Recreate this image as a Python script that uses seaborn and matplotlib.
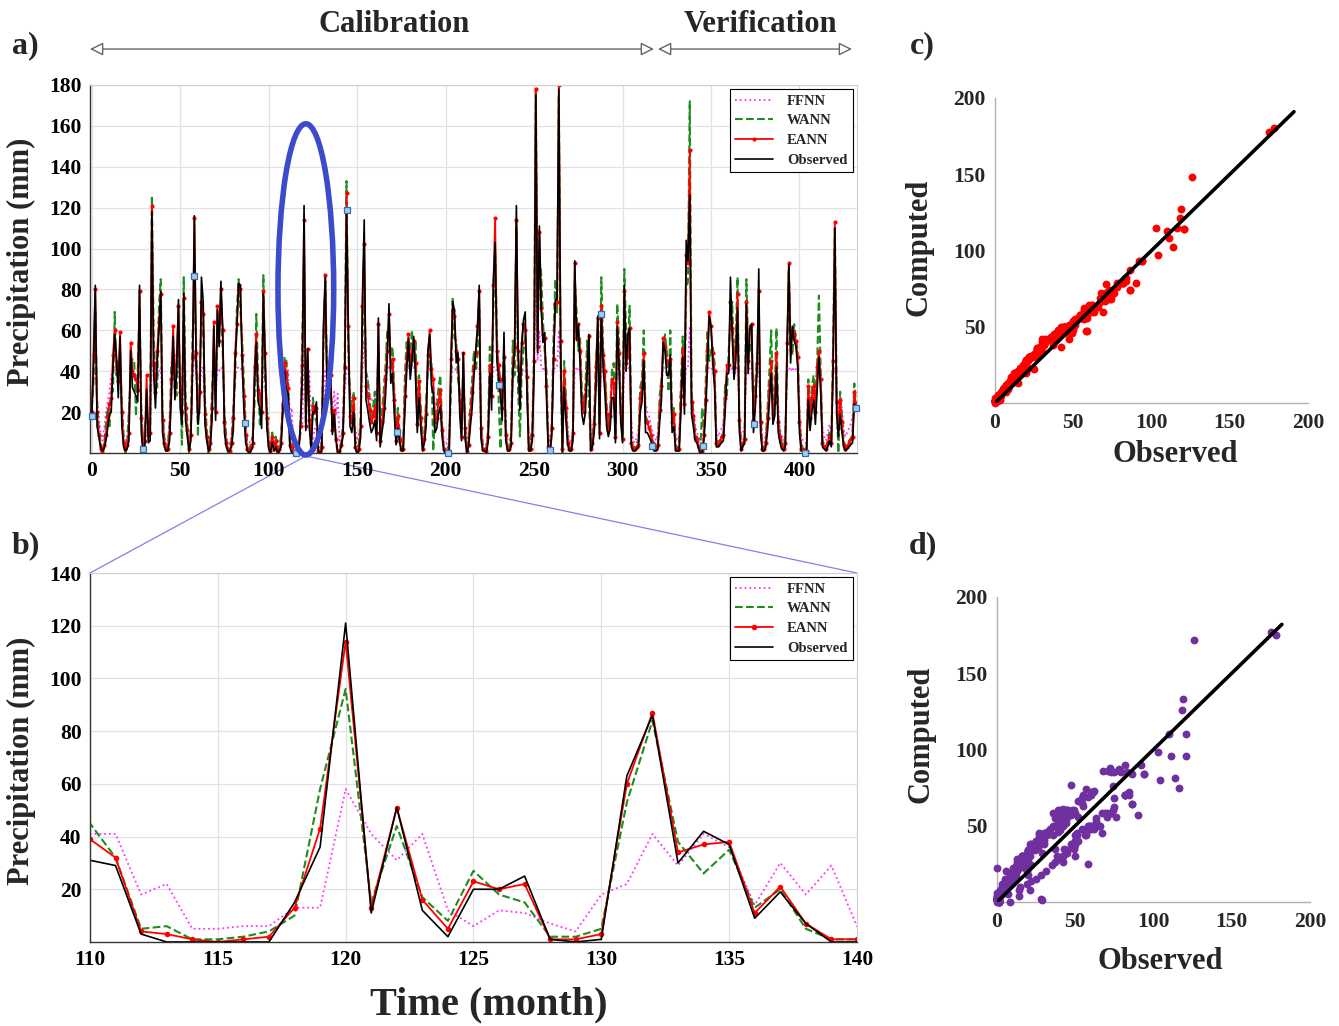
import numpy as np
import pandas as pd
import matplotlib
matplotlib.use("Agg")
import matplotlib.pyplot as plt
import seaborn as sns
from matplotlib.patches import Ellipse, ConnectionPatch

# ---------------- data (monthly precipitation, mm) ----------------
observed = [
    18, 43, 82, 13, 8, 3, 1, 2, 6, 12, 19, 20,
    42, 58, 47, 27, 57, 13, 3, 1, 2, 6, 50, 32,
    30, 28, 25, 82, 10, 0, 3, 31, 5, 6, 118, 39,
    22, 45, 60, 79, 10, 3, 1, 1, 6, 28, 57, 26,
    40, 75, 22, 14, 78, 16, 8, 1, 6, 42, 116, 43,
    14, 22, 86, 74, 14, 6, 1, 3, 16, 62, 16, 70,
    52, 84, 61, 10, 3, 1, 1, 3, 11, 44, 60, 83,
    82, 44, 21, 5, 1, 0, 1, 3, 35, 54, 25, 22,
    12, 78, 45, 12, 2, 0, 5, 1, 3, 0, 1, 3,
    20, 40, 31, 29, 3, 0, 0, 0, 0, 0, 15, 36,
    121, 11, 51, 12, 2, 20, 20, 25, 1, 0, 1, 63,
    86, 30, 42, 37, 9, 19, 7, 0, 0, 3, 8, 39,
    119, 60, 13, 10, 20, 2, 0, 1, 8, 76, 114, 26,
    21, 15, 10, 12, 16, 6, 66, 3, 10, 16, 27, 45,
    73, 34, 39, 19, 4, 12, 5, 1, 1, 21, 40, 56,
    36, 45, 57, 37, 10, 27, 12, 1, 5, 13, 50, 58,
    33, 29, 10, 12, 19, 23, 8, 1, 0, 0, 0, 42,
    74, 70, 44, 49, 19, 6, 49, 7, 0, 3, 13, 22,
    37, 50, 60, 82, 7, 1, 1, 0, 5, 39, 21, 84,
    103, 45, 37, 28, 16, 59, 6, 1, 1, 3, 39, 50,
    121, 50, 21, 52, 65, 69, 29, 1, 1, 6, 40, 175,
    49, 111, 72, 54, 59, 27, 2, 0, 8, 44, 75, 75,
    178, 51, 1, 32, 16, 4, 1, 1, 6, 94, 55, 63,
    43, 19, 14, 20, 39, 58, 1, 3, 10, 32, 67, 7,
    68, 42, 30, 13, 8, 12, 27, 27, 5, 62, 42, 15,
    5, 82, 40, 58, 61, 3, 1, 1, 2, 3, 20, 25,
    45, 10, 10, 8, 6, 3, 1, 1, 2, 15, 26, 54,
    50, 38, 38, 48, 10, 13, 1, 1, 1, 20, 47, 19,
    104, 94, 126, 19, 13, 6, 5, 2, 0, 0, 6, 20,
    42, 67, 62, 44, 32, 3, 3, 4, 5, 6, 20, 39,
    39, 86, 57, 36, 45, 71, 11, 1, 3, 5, 73, 39,
    61, 63, 10, 21, 39, 90, 10, 1, 1, 3, 11, 25,
    39, 14, 18, 42, 10, 5, 2, 1, 3, 50, 92, 44,
    62, 55, 52, 42, 10, 1, 1, 0, 0, 26, 11, 20,
    26, 14, 30, 47, 29, 3, 2, 1, 3, 6, 3, 40,
    110, 19, 8, 19, 10, 3, 1, 2, 3, 4, 5, 24,
    22,
]

eann = [
    20, 48, 80, 20, 9, 2, 1, 4, 9, 18, 24, 27,
    48, 60, 42, 35, 59, 20, 5, 2, 4, 10, 54, 40,
    38, 36, 31, 79, 17, 1, 6, 38, 9, 10, 121, 44,
    30, 50, 64, 78, 16, 5, 2, 2, 10, 36, 62, 33,
    48, 72, 30, 20, 76, 22, 11, 2, 9, 47, 115, 49,
    20, 30, 74, 68, 19, 8, 2, 5, 22, 64, 20, 72,
    55, 80, 60, 15, 5, 2, 1, 5, 17, 49, 63, 82,
    80, 48, 28, 9, 2, 1, 3, 5, 42, 58, 31, 29,
    20, 79, 49, 17, 4, 1, 8, 2, 6, 1, 2, 5,
    24, 44, 39, 32, 4, 3, 1, 0, 1, 2, 13, 43,
    114, 13, 51, 16, 5, 23, 20, 22, 1, 1, 3, 60,
    87, 34, 37, 38, 11, 21, 7, 1, 1, 4, 10, 42,
    127, 62, 18, 15, 27, 3, 1, 2, 13, 72, 102, 33,
    28, 21, 15, 18, 23, 10, 63, 6, 15, 22, 36, 50,
    68, 42, 46, 26, 6, 18, 7, 2, 2, 28, 47, 58,
    43, 50, 55, 44, 14, 35, 17, 2, 7, 19, 48, 60,
    41, 36, 15, 17, 25, 31, 11, 2, 1, 1, 1, 46,
    70, 67, 50, 46, 26, 8, 49, 12, 1, 4, 19, 30,
    42, 49, 62, 79, 12, 2, 2, 1, 8, 43, 28, 82,
    115, 50, 43, 36, 22, 47, 9, 2, 2, 5, 44, 52,
    114, 50, 28, 54, 63, 60, 37, 2, 2, 9, 45, 178,
    52, 108, 71, 58, 56, 33, 3, 1, 12, 46, 73, 74,
    180, 55, 2, 40, 22, 5, 2, 2, 10, 93, 56, 63,
    50, 25, 20, 28, 41, 57, 2, 5, 14, 42, 66, 10,
    72, 48, 40, 19, 11, 18, 36, 34, 8, 64, 49, 20,
    7, 79, 44, 47, 61, 5, 2, 2, 3, 4, 27, 32,
    49, 15, 15, 12, 9, 5, 2, 2, 4, 21, 33, 56,
    52, 45, 44, 46, 15, 19, 2, 2, 2, 28, 51, 24,
    97, 93, 148, 25, 18, 8, 7, 3, 1, 1, 9, 26,
    50, 69, 62, 49, 40, 5, 4, 6, 8, 9, 27, 43,
    43, 74, 61, 42, 50, 78, 16, 2, 5, 7, 74, 45,
    62, 63, 16, 28, 44, 79, 15, 2, 2, 5, 17, 31,
    45, 19, 25, 49, 15, 8, 3, 2, 5, 54, 93, 50,
    60, 58, 55, 47, 15, 2, 2, 1, 1, 33, 17, 27,
    33, 20, 42, 50, 36, 5, 3, 2, 5, 9, 5, 45,
    113, 25, 12, 26, 15, 4, 2, 3, 5, 7, 8, 30,
    23,
]

wann = [
    22, 35, 70, 25, 12, 5, 0, 4, 14, 22, 12, 30,
    30, 69, 38, 45, 48, 24, 8, 0, 5, 20, 38, 46,
    45, 18, 40, 70, 22, 2, 12, 20, 15, 10, 126, 58,
    36, 32, 72, 85, 20, 8, 0, 4, 14, 44, 45, 38,
    28, 62, 36, 4, 86, 28, 15, 0, 12, 58, 75, 55,
    8, 38, 64, 60, 26, 12, 0, 8, 30, 50, 30, 58,
    66, 72, 50, 20, 8, 0, 3, 6, 22, 34, 70, 85,
    70, 56, 34, 14, 3, 0, 5, 8, 24, 68, 38, 14,
    22, 87, 34, 22, 6, 2, 10, 4, 8, 2, 3, 8,
    25, 47, 45, 32, 5, 6, 1, 1, 2, 4, 10, 58,
    96, 15, 44, 17, 8, 27, 18, 15, 2, 2, 5, 53,
    84, 38, 26, 35, 13, 20, 5, 1, 1, 5, 14, 48,
    133, 50, 28, 20, 30, 6, 3, 4, 18, 56, 81, 40,
    36, 26, 18, 22, 30, 14, 50, 10, 20, 30, 42, 60,
    58, 48, 52, 30, 8, 22, 10, 4, 3, 38, 55, 44,
    50, 60, 44, 55, 18, 38, 22, 3, 10, 26, 40, 48,
    45, 1, 18, 22, 32, 38, 14, 2, 1, 2, 4, 30,
    76, 56, 55, 36, 30, 12, 35, 14, 2, 8, 24, 36,
    50, 40, 48, 70, 14, 4, 3, 2, 11, 52, 30, 70,
    98, 58, 26, 2, 25, 50, 12, 3, 4, 8, 55, 38,
    110, 30, 8, 40, 50, 58, 40, 2, 4, 12, 50, 177,
    60, 96, 88, 65, 50, 40, 5, 2, 14, 56, 85, 68,
    175, 45, 0, 45, 28, 8, 3, 2, 12, 84, 70, 50,
    56, 30, 22, 32, 55, 25, 4, 6, 18, 46, 58, 14,
    86, 52, 40, 24, 12, 20, 40, 44, 8, 73, 55, 24,
    8, 90, 60, 50, 72, 6, 3, 3, 5, 6, 32, 36,
    60, 18, 16, 14, 10, 6, 3, 2, 5, 28, 36, 48,
    58, 50, 30, 60, 16, 22, 4, 2, 4, 34, 57, 28,
    80, 84, 172, 30, 20, 10, 8, 5, 2, 22, 9, 34,
    60, 45, 50, 52, 44, 6, 6, 7, 8, 10, 34, 28,
    50, 64, 74, 44, 56, 86, 18, 3, 6, 8, 85, 52,
    50, 55, 18, 34, 46, 57, 20, 2, 3, 6, 22, 40,
    60, 26, 28, 61, 18, 9, 5, 3, 6, 44, 90, 54,
    48, 63, 56, 50, 18, 4, 3, 2, 2, 36, 20, 32,
    38, 26, 44, 77, 40, 6, 5, 3, 6, 10, 6, 52,
    110, 30, 0, 30, 18, 6, 3, 4, 6, 7, 9, 34,
    24,
]

ffnn = [
    20, 35, 40, 28, 18, 10, 6, 12, 20, 25, 30, 38,
    41, 40, 41, 38, 40, 25, 10, 5, 8, 20, 40, 38,
    36, 38, 34, 40, 22, 8, 5, 12, 6, 10, 45, 41,
    30, 36, 40, 42, 20, 8, 4, 5, 15, 30, 40, 35,
    38, 42, 30, 20, 40, 22, 10, 5, 10, 35, 50, 40,
    22, 28, 42, 41, 20, 8, 5, 8, 22, 40, 26, 41,
    40, 42, 41, 20, 8, 5, 5, 8, 16, 38, 41, 42,
    42, 40, 30, 12, 5, 5, 6, 8, 30, 40, 32, 30,
    20, 42, 40, 22, 8, 5, 8, 6, 8, 5, 6, 8,
    25, 40, 41, 41, 18, 22, 5, 5, 6, 6, 13, 13,
    58, 41, 31, 41, 12, 6, 12, 11, 7, 4, 18, 22,
    41, 29, 41, 36, 14, 30, 18, 29, 6, 8, 12, 30,
    42, 41, 30, 25, 28, 12, 6, 8, 15, 40, 55, 40,
    36, 30, 25, 26, 28, 14, 40, 12, 18, 28, 36, 40,
    42, 40, 41, 32, 12, 15, 8, 5, 6, 30, 40, 42,
    40, 41, 42, 40, 20, 30, 20, 6, 8, 20, 40, 42,
    38, 36, 22, 25, 30, 32, 16, 6, 4, 5, 8, 35,
    42, 42, 40, 40, 28, 12, 38, 15, 5, 8, 20, 30,
    40, 41, 42, 42, 15, 6, 5, 4, 10, 40, 30, 42,
    42, 40, 36, 33, 28, 40, 14, 6, 6, 8, 35, 40,
    42, 40, 30, 40, 41, 41, 35, 8, 6, 12, 40, 80,
    45, 60, 42, 41, 42, 35, 10, 5, 14, 40, 42, 42,
    60, 42, 10, 35, 25, 12, 6, 5, 12, 42, 41, 42,
    40, 28, 22, 30, 40, 41, 10, 8, 18, 36, 42, 20,
    42, 40, 38, 22, 15, 22, 34, 30, 14, 42, 41, 28,
    12, 42, 40, 41, 42, 15, 6, 5, 8, 10, 28, 32,
    40, 25, 20, 18, 14, 10, 8, 6, 10, 25, 32, 42,
    41, 38, 40, 40, 20, 22, 8, 6, 8, 28, 40, 30,
    42, 42, 62, 30, 22, 14, 10, 8, 5, 5, 12, 30,
    40, 42, 42, 40, 36, 12, 8, 10, 12, 14, 30, 40,
    40, 42, 41, 38, 40, 42, 20, 8, 10, 12, 40, 38,
    42, 42, 22, 30, 40, 42, 20, 6, 5, 10, 22, 32,
    40, 25, 30, 42, 22, 12, 8, 6, 10, 40, 42, 40,
    42, 40, 41, 40, 22, 8, 6, 5, 5, 32, 25, 30,
    34, 28, 36, 42, 36, 12, 8, 6, 10, 14, 10, 38,
    42, 30, 20, 28, 22, 12, 8, 10, 12, 14, 18, 30,
    30,
]

series_names = ["FFNN", "WANN", "EANN", "Observed"]
y_ticks_a = [20, 40, 60, 80, 100, 120, 140, 160, 180]
x_ticks_a = [0, 50, 100, 150, 200, 250, 300, 350, 400]
y_ticks_b = [20, 40, 60, 80, 100, 120, 140]
x_ticks_b = [110, 115, 120, 125, 130, 135, 140]
scatter_ticks = [0, 50, 100, 150, 200]

n = min(len(observed), len(eann), len(wann), len(ffnn))
months = np.arange(n)
df = pd.DataFrame({
    "Month": months,
    "Observed": np.array(observed[:n], float),
    "EANN": np.array(eann[:n], float),
    "WANN": np.array(wann[:n], float),
    "FFNN": np.array(ffnn[:n], float),
})

# ---------------- style ----------------
sns.set_style("white")
plt.rcParams["font.family"] = ["Liberation Serif", "DejaVu Serif"]
plt.rcParams["font.weight"] = "bold"
plt.rcParams["axes.labelweight"] = "bold"

fig = plt.figure(figsize=(13.39, 10.26), dpi=100)
ax_a = fig.add_axes([0.0672, 0.5585, 0.5728, 0.3587])
ax_b = fig.add_axes([0.0672, 0.0819, 0.5728, 0.3596])
ax_c = fig.add_axes([0.7431, 0.6072, 0.2338, 0.2973])
ax_d = fig.add_axes([0.7446, 0.1209, 0.2338, 0.2973])

styles = {
    "FFNN": dict(color="#ff33ff", linestyle=":", lw=1.3),
    "WANN": dict(color="#1e8c1e", linestyle="--", lw=1.5),
    "EANN": dict(color="#ff0000", linestyle="-", lw=1.3, marker="o",
                 markeredgewidth=0),
    "Observed": dict(color="black", linestyle="-", lw=1.2),
}


def draw_series(ax, ms):
    for name in series_names:
        kw = dict(styles[name])
        if name == "EANN":
            kw["markersize"] = ms
        sns.lineplot(data=df, x="Month", y=name, ax=ax, label=name, **kw)


def style_ts(ax, xlim, ylim, xt, yt):
    ax.set_xlim(*xlim)
    ax.set_ylim(*ylim)
    ax.set_xticks(xt)
    ax.set_yticks(yt)
    ax.grid(True, color="#e2e2e2", lw=0.9)
    ax.set_axisbelow(True)
    for s in ["left", "bottom"]:
        ax.spines[s].set_color("#333333")
        ax.spines[s].set_linewidth(1.0)
    for s in ["top", "right"]:
        ax.spines[s].set_color("#d0d0d0")
        ax.spines[s].set_linewidth(0.8)
    ax.tick_params(direction="in", length=4, width=0.8, labelsize=15.5,
                   colors="#333333", labelcolor="black", pad=6)
    for lab in ax.get_xticklabels() + ax.get_yticklabels():
        lab.set_fontweight("bold")
    ax.set_xlabel("")
    ax.set_ylabel("Precipitation (mm)", fontsize=22, fontweight="bold")
    leg = ax.legend(loc="upper right", fancybox=False, edgecolor="black",
                    framealpha=1, prop={"weight": "bold", "size": 10.5},
                    handlelength=2.6, handletextpad=1.0, borderpad=0.35,
                    labelspacing=0.45, borderaxespad=0.3)
    leg.get_frame().set_linewidth(0.8)


# ---- panel a ----
draw_series(ax_a, 3)
marker_pos = np.linspace(0, n - 1, 16)
marker_val = np.interp(marker_pos, months, df["Observed"].values)
ax_a.plot(marker_pos, marker_val, "s", mfc="#a9cbea", mec="#2f6fb0",
          ms=4.5, mew=0.9, zorder=6, clip_on=False)
style_ts(ax_a, (-1, 432.5), (0, 180), x_ticks_a, y_ticks_a)
ax_a.yaxis.set_label_coords(-0.070, 0.52)

ell = Ellipse((121, 80), 31.5, 162, fill=False, ec="#3a4cc9", lw=4,
              clip_on=False, zorder=8)
ax_a.add_patch(ell)

# ---- panel b ----
draw_series(ax_b, 4)
style_ts(ax_b, (110, 140), (0, 140), x_ticks_b, y_ticks_b)
ax_b.yaxis.set_label_coords(-0.070, 0.49)
ax_b.set_xlabel("Time (month)", fontsize=29, fontweight="bold")
ax_b.xaxis.set_label_coords(0.52, -0.12)

for xb in (110, 140):
    con = ConnectionPatch(xyA=(121, -1.5), coordsA=ax_a.transData,
                          xyB=(xb, 140), coordsB=ax_b.transData,
                          color="#7f83e8", lw=0.9, zorder=0)
    fig.add_artist(con)


# ---- scatter panels ----
def scatter_panel(ax, comp, color, line_end, xlab_coords, ylab_coords):
    sns.scatterplot(x=df["Observed"], y=df[comp], ax=ax, color=color, s=32,
                    linewidth=0, clip_on=False, zorder=3)
    # 1:1 agreement line
    ax.plot([0, line_end], [0, line_end], color="black", lw=2.6, zorder=4)
    ax.set_xlim(0, 200)
    ax.set_ylim(0, 200)
    ax.set_xticks(scatter_ticks)
    ax.set_yticks(scatter_ticks[1:])
    sns.despine(ax=ax)
    for s in ["left", "bottom"]:
        ax.spines[s].set_color("#b0b0b0")
        ax.spines[s].set_linewidth(1.0)
    ax.tick_params(length=3, color="#b0b0b0", labelsize=15.5, pad=4)
    for lab in ax.get_xticklabels() + ax.get_yticklabels():
        lab.set_fontweight("bold")
    ax.set_xlabel("Observed", fontsize=22, fontweight="bold")
    ax.set_ylabel("Computed", fontsize=22, fontweight="bold")
    ax.xaxis.set_label_coords(*xlab_coords)
    ax.yaxis.set_label_coords(*ylab_coords)


scatter_panel(ax_c, "EANN", "#ff0000", 191, (0.575, -0.12), (-0.198, 0.51))
scatter_panel(ax_d, "WANN", "#7030a0", 182, (0.52, -0.148), (-0.198, 0.55))

# ---- header annotations ----
fig.text(0.2943, 0.976, "Calibration", ha="center", va="center",
         fontsize=22, fontweight="bold")
fig.text(0.5676, 0.976, "Verification", ha="center", va="center",
         fontsize=22, fontweight="bold")
arrow_kw = dict(arrowstyle="<|-|>,head_length=0.8,head_width=0.4",
                fc="white", ec="#666666", lw=1.0, shrinkA=0, shrinkB=0)
ax_a.annotate("", xy=(0.4884, 0.9522), xytext=(0.0672, 0.9522),
              xycoords="figure fraction", textcoords="figure fraction",
              arrowprops=arrow_kw, annotation_clip=False)
ax_a.annotate("", xy=(0.6363, 0.9522), xytext=(0.4914, 0.9522),
              xycoords="figure fraction", textcoords="figure fraction",
              arrowprops=arrow_kw, annotation_clip=False)

for lbl, (x, y) in {"a)": (0.019, 0.955), "b)": (0.019, 0.468),
                    "c)": (0.689, 0.955), "d)": (0.689, 0.468)}.items():
    fig.text(x, y, lbl, ha="center", va="center", fontsize=23,
             fontweight="bold")

fig.savefig("out.png", dpi=100)
